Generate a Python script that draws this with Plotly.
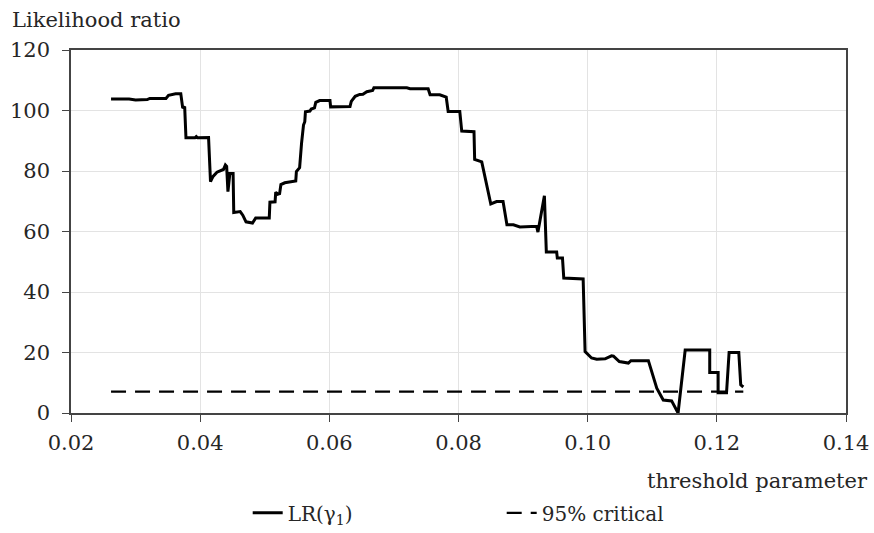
import plotly.graph_objects as go

threshold = [0.0262, 0.0290, 0.0300, 0.0318, 0.0322, 0.0347, 0.0351, 0.0362, 0.0370, 0.0373,
             0.0376, 0.0378, 0.0392, 0.0394, 0.0396, 0.0413, 0.0416, 0.0420, 0.0426, 0.0436,
             0.0439, 0.0441, 0.0443, 0.0446, 0.0451, 0.0452, 0.0462, 0.0466, 0.0471, 0.0481,
             0.0486, 0.0507, 0.0508, 0.0516, 0.0517, 0.0520, 0.0523, 0.0525, 0.0531, 0.0548,
             0.0549, 0.0554, 0.0557, 0.0560, 0.0562, 0.0563, 0.0570, 0.0572, 0.0577, 0.0579,
             0.0585, 0.0601, 0.0602, 0.0632, 0.0634, 0.0640, 0.0647, 0.0652, 0.0658, 0.0667,
             0.0669, 0.0720, 0.0725, 0.0753, 0.0756, 0.0771, 0.0781, 0.0784, 0.0802, 0.0805,
             0.0824, 0.0825, 0.0836, 0.0850, 0.0859, 0.0869, 0.0875, 0.0885, 0.0895, 0.0921,
             0.0923, 0.0933, 0.0936, 0.0952, 0.0953, 0.0961, 0.0963, 0.0993, 0.0996, 0.1006,
             0.1014, 0.1027, 0.1037, 0.1040, 0.1049, 0.1063, 0.1067, 0.1094, 0.1107, 0.1117,
             0.1130, 0.1140, 0.1151, 0.1189, 0.1189, 0.1202, 0.1202, 0.1215, 0.1219, 0.1234,
             0.1237, 0.1241]
lr = [103.8, 103.8, 103.5, 103.6, 104.0, 104.0, 105.0, 105.5, 105.5, 100.8,
      101.3, 91.0, 91.0, 91.4, 91.0, 91.1, 76.5, 78.2, 79.6, 80.5,
      82.0, 81.5, 73.2, 79.2, 79.2, 66.3, 66.6, 65.4, 63.2, 62.8,
      64.5, 64.5, 69.7, 69.8, 73.0, 72.3, 72.5, 75.5, 76.1, 76.7,
      79.8, 81.1, 89.2, 95.2, 96.3, 99.6, 99.8, 100.5, 100.9, 102.7,
      103.3, 103.3, 101.2, 101.3, 103.0, 104.7, 105.3, 105.4, 106.2, 106.6,
      107.5, 107.5, 107.2, 107.2, 105.2, 105.2, 104.4, 99.7, 99.7, 93.2,
      93.0, 83.8, 83.0, 69.1, 69.9, 69.9, 62.2, 62.2, 61.5, 61.7,
      59.8, 71.8, 53.2, 53.2, 51.2, 51.2, 44.6, 44.3, 20.3, 18.2,
      17.8, 17.9, 18.9, 18.8, 17.0, 16.5, 17.3, 17.3, 8.2, 4.3,
      4.0, 0.0, 20.8, 20.8, 13.4, 13.4, 6.7, 6.7, 20.0, 20.0,
      9.3, 8.6]
critical_value = 7.04
critical_x = [0.0262, 0.1241]

x_ticks = [0.02, 0.04, 0.06, 0.08, 0.10, 0.12, 0.14]
x_tick_labels = ["0.02", "0.04", "0.06", "0.08", "0.10", "0.12", "0.14"]
y_ticks = [0, 20, 40, 60, 80, 100, 120]

FONT = "DejaVu Serif"
TXT = "#262626"

fig = go.Figure()
fig.add_trace(go.Scatter(x=threshold, y=lr, mode="lines", name="LR(γ<sub>1</sub>)",
                         line=dict(color="black", width=3)))
fig.add_trace(go.Scatter(x=critical_x, y=[critical_value] * len(critical_x), mode="lines",
                         name="95% critical",
                         line=dict(color="black", width=2.2, dash="15px,9px")))

axis_common = dict(showline=True, linecolor="#444444", linewidth=1.5, mirror=True,
                   showgrid=True, gridcolor="#e3e3e3", gridwidth=1.3,
                   ticks="outside", ticklen=7, tickcolor="#444444", tickwidth=1.3,
                   zeroline=False, automargin=False,
                   tickfont=dict(family=FONT, size=21, color=TXT))

fig.update_xaxes(range=[0.02, 0.14], tickvals=x_ticks, ticktext=x_tick_labels,
                 ticklabelstandoff=3, **axis_common)
fig.update_yaxes(range=[0, 120], tickvals=y_ticks, ticklabelstandoff=8, **axis_common)

fig.update_layout(
    width=874, height=533,
    margin=dict(l=71, r=28, t=50, b=120, autoexpand=False),
    plot_bgcolor="white", paper_bgcolor="white",
    font=dict(family=FONT, size=21, color=TXT),
    showlegend=True,
    legend=dict(orientation="h", x=0.228, xanchor="left", y=-0.275, yanchor="middle",
                entrywidth=209, entrywidthmode="pixels",
                font=dict(family=FONT, size=20, color=TXT), bgcolor="rgba(0,0,0,0)"),
    annotations=[
        dict(text="Likelihood ratio", xref="paper", yref="paper", x=-0.0787, y=1.083,
             xanchor="left", yanchor="middle", showarrow=False,
             font=dict(family=FONT, size=21, color=TXT)),
        dict(text="threshold parameter", xref="paper", yref="paper", x=1.031, y=-0.187,
             xanchor="right", yanchor="middle", showarrow=False,
             font=dict(family=FONT, size=21, color=TXT)),
    ],
)

fig.write_html("out.html", config={"displayModeBar": False},
               post_script="document.body.style.margin = '0';")
